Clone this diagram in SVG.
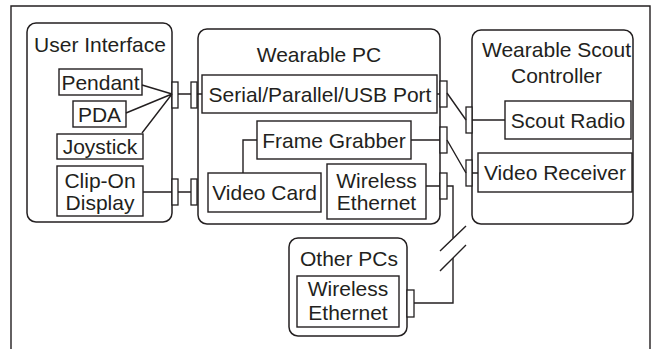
<svg xmlns="http://www.w3.org/2000/svg" width="655" height="349" viewBox="0 0 655 349">
<style>
.grp{fill:#fff;stroke:#231f20;stroke-width:1.5}
.box{fill:#fff;stroke:#231f20;stroke-width:1.4}
.blk{fill:#fff;stroke:#231f20;stroke-width:1.3}
.ln{fill:none;stroke:#231f20;stroke-width:1.4}
text{font-family:"Liberation Sans",Arial,sans-serif;font-size:21px;fill:#231f20;text-anchor:middle}
</style>
<rect x="0" y="0" width="655" height="349" fill="#fff"/>
<path d="M11,349 V6 H650 V349" class="ln" stroke-width="1.5"/>

<g id="user-interface">
<rect x="27" y="23" width="145" height="199" rx="9" class="grp"/>
<text x="100" y="52">User Interface</text>
<rect x="172" y="82" width="6" height="26" class="blk"/>
<rect x="172" y="179" width="6" height="26" class="blk"/>
</g>
<g id="pendant"><rect x="59" y="69" width="83" height="26" class="box"/><text x="100.5" y="89.5">Pendant</text></g>
<g id="pda"><rect x="73" y="101" width="53" height="26" class="box"/><text x="99.5" y="121.5">PDA</text></g>
<g id="joystick"><rect x="57" y="134" width="86" height="25" class="box"/><text x="100" y="154">Joystick</text></g>
<g id="clip-on-display"><rect x="57" y="166" width="86" height="50" class="box"/><text x="100" y="187.5">Clip-On</text><text x="100" y="209.5">Display</text></g>

<g id="wearable-pc">
<rect x="198" y="29" width="242" height="195" rx="9" class="grp"/>
<text x="319" y="62">Wearable PC</text>
<rect x="191" y="82" width="6" height="26" class="blk"/>
<rect x="191" y="179" width="6" height="26" class="blk"/>
<rect x="440" y="81" width="7" height="26" class="blk"/>
<rect x="440" y="127" width="7" height="26" class="blk"/>
<rect x="440" y="173" width="7" height="26" class="blk"/>
</g>
<g id="serial-port"><rect x="202" y="75" width="235" height="38" class="box"/><text x="320" y="101.5">Serial/Parallel/USB Port</text></g>
<g id="frame-grabber"><rect x="257" y="121" width="154" height="38" class="box"/><text x="334" y="147.5">Frame Grabber</text></g>
<g id="video-card"><rect x="208" y="173" width="113" height="39" class="box"/><text x="264.5" y="200">Video Card</text></g>
<g id="pc-wireless-ethernet"><rect x="327" y="164" width="99" height="55" class="box"/><text x="376.5" y="187.5">Wireless</text><text x="376.5" y="209.5">Ethernet</text></g>

<g id="wearable-scout-controller">
<rect x="472" y="30" width="161" height="194" rx="9" class="grp"/>
<text x="556.5" y="56.5">Wearable Scout</text>
<text x="556.5" y="83">Controller</text>
<rect x="466" y="107" width="6" height="26" class="blk"/>
<rect x="466" y="160" width="6" height="26" class="blk"/>
</g>
<g id="scout-radio"><rect x="505" y="101" width="126" height="38" class="box"/><text x="568" y="127.5">Scout Radio</text></g>
<g id="video-receiver"><rect x="478" y="153" width="154" height="39" class="box"/><text x="555" y="180">Video Receiver</text></g>

<g id="other-pcs">
<rect x="289" y="238" width="118" height="98" rx="9" class="grp"/>
<text x="349" y="266">Other PCs</text>
<rect x="407" y="290" width="7" height="27" class="blk"/>
</g>
<g id="other-wireless-ethernet"><rect x="297" y="276" width="102" height="51" class="box"/><text x="348" y="296">Wireless</text><text x="348" y="320">Ethernet</text></g>

<g id="connectors">
<path d="M142,85 L172,94 M126,113 L172,94 M142,133 L172,94" class="ln"/>
<path d="M178,94 H191 M197,94 H202" class="ln"/>
<path d="M143,192 H172 M178,192 H191" class="ln"/>
<path d="M243,173 V140 H257" class="ln"/>
<path d="M437,94 H440 M411,140 H440 M426,186 H440" class="ln"/>
<path d="M447,93 L466,120 M472,120 H505" class="ln"/>
<path d="M447,140 L466,173 M472,173 H478" class="ln"/>
<path d="M447,186 H453 V238 M453,258 V303 H414" class="ln"/>
<path d="M440,251 L466,226 M440,271 L466,245" class="ln"/>
</g>
</svg>
